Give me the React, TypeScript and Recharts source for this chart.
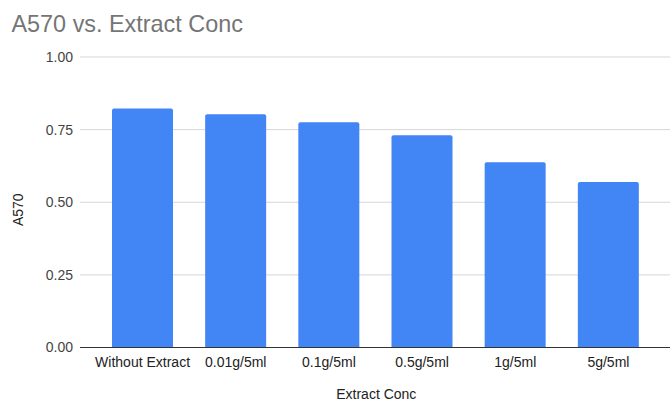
import React from 'react';
import { BarChart, Bar, XAxis, YAxis, CartesianGrid } from 'recharts';

const categories = ['Without Extract', '0.01g/5ml', '0.1g/5ml', '0.5g/5ml', '1g/5ml', '5g/5ml'];
const a570Values = [0.823, 0.803, 0.775, 0.731, 0.638, 0.570];
const yTicks = [0, 0.25, 0.5, 0.75, 1];

const data = categories.map((c, i) => ({ name: c, value: a570Values[i] }));

const FONT = '"Liberation Sans", Arial, sans-serif';

export default function App() {
  return (
    <div style={{ position: 'absolute', left: 0, top: 0, width: 670, height: 402, background: '#fff', fontFamily: FONT }}>
      <div
        style={{
          position: 'absolute',
          left: 11.5,
          top: 12.5,
          fontSize: 23.4,
          lineHeight: 1,
          color: '#757575',
          whiteSpace: 'nowrap',
          fontFamily: FONT,
        }}
      >
        A570 vs. Extract Conc
      </div>
      <BarChart
        width={670}
        height={402}
        data={data}
        margin={{ top: 57, right: 0, bottom: 0, left: 0 }}
        barCategoryGap={16}
      >
        <CartesianGrid vertical={false} stroke="#d6d6d6" />
        <XAxis
          dataKey="name"
          height={54.5}
          tickLine={false}
          tickSize={0}
          tickMargin={9.5}
          axisLine={{ stroke: '#333333' }}
          padding={{ left: 16, right: 15 }}
          interval={0}
          tick={{ fill: '#222222', fontSize: 14, fontFamily: FONT }}
        />
        <YAxis
          width={80}
          domain={[0, 1]}
          ticks={yTicks}
          tickFormatter={(v: number) => v.toFixed(2)}
          axisLine={false}
          tickLine={false}
          tickSize={0}
          tickMargin={7}
          tick={{ fill: '#444444', fontSize: 14, fontFamily: FONT }}
        />
        <Bar dataKey="value" fill="#4285f4" radius={[2, 2, 0, 0]} isAnimationActive={false} />
      </BarChart>
      <svg width={670} height={402} style={{ position: 'absolute', left: 0, top: 0, pointerEvents: 'none' }}>
        <text
          x={23}
          y={209.7}
          transform="rotate(-90 23 209.7)"
          textAnchor="middle"
          fontSize={14}
          fill="#222222"
          fontFamily={FONT}
        >
          A570
        </text>
        <text x={376.3} y={399} textAnchor="middle" fontSize={14} fill="#222222" fontFamily={FONT}>
          Extract Conc
        </text>
      </svg>
    </div>
  );
}
